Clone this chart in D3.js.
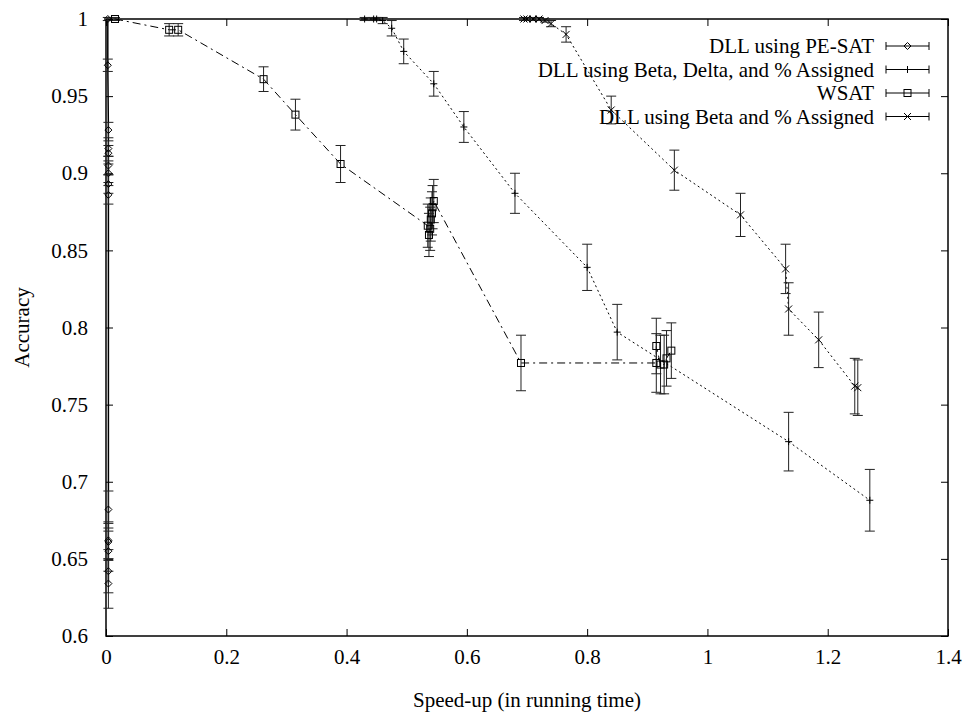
<!DOCTYPE html>
<html>
<head>
<meta charset="utf-8">
<script src="https://cdn.jsdelivr.net/npm/d3@7"></script>
<style>
  body { margin: 0; background: #fff; }
  svg text { font-family: "Liberation Serif", "Times New Roman", serif; fill: #000; }
</style>
</head>
<body>
<div class="chart-box"></div>
<script>
// DLL using PE-SAT
var peX   = [0.003, 0.003, 0.004, 0.004, 0.004, 0.004, 0.004, 0.004, 0.004, 0.004, 0.004, 0.004, 0.004, 0.004, 0.004];
var peY   = [1.000, 0.970, 0.928, 0.916, 0.913, 0.905, 0.900, 0.893, 0.886, 0.682, 0.662, 0.661, 0.655, 0.642, 0.634];
var peErr = [0.001, 0.004, 0.005, 0.005, 0.005, 0.006, 0.006, 0.006, 0.006, 0.012, 0.012, 0.012, 0.013, 0.014, 0.016];

// DLL using Beta, Delta, and % Assigned
var bdX   = [0.430, 0.445, 0.450, 0.460, 0.475, 0.495, 0.545, 0.595, 0.680, 0.800, 0.850, 1.135, 1.270];
var bdY   = [1.000, 1.000, 1.000, 0.999, 0.994, 0.979, 0.958, 0.930, 0.887, 0.839, 0.797, 0.726, 0.688];
var bdErr = [0.001, 0.001, 0.001, 0.002, 0.005, 0.008, 0.008, 0.010, 0.013, 0.015, 0.018, 0.019, 0.020];

// WSAT
var wsX   = [0.015, 0.105, 0.120, 0.262, 0.315, 0.390, 0.535, 0.537, 0.539, 0.540, 0.542, 0.543, 0.545, 0.690, 0.915, 0.915, 0.922, 0.928, 0.932, 0.940];
var wsY   = [1.000, 0.993, 0.993, 0.961, 0.938, 0.906, 0.866, 0.860, 0.864, 0.870, 0.874, 0.878, 0.882, 0.777, 0.777, 0.788, 0.776, 0.776, 0.780, 0.785];
var wsErr = [0.001, 0.004, 0.004, 0.008, 0.010, 0.012, 0.014, 0.014, 0.014, 0.014, 0.014, 0.014, 0.014, 0.018, 0.019, 0.018, 0.019, 0.019, 0.018, 0.018];

// DLL using Beta and % Assigned
var baX   = [0.695, 0.700, 0.710, 0.720, 0.730, 0.740, 0.765, 0.840, 0.945, 1.055, 1.130, 1.135, 1.185, 1.245, 1.250];
var baY   = [1.000, 1.000, 1.000, 1.000, 0.999, 0.997, 0.990, 0.941, 0.902, 0.873, 0.838, 0.812, 0.792, 0.762, 0.761];
var baErr = [0.001, 0.001, 0.001, 0.001, 0.001, 0.002, 0.005, 0.009, 0.013, 0.014, 0.016, 0.017, 0.018, 0.018, 0.018];

var xTicks = [0, 0.2, 0.4, 0.6, 0.8, 1, 1.2, 1.4];
var yTicks = [0.6, 0.65, 0.7, 0.75, 0.8, 0.85, 0.9, 0.95, 1];

var seriesNames = ["DLL using PE-SAT", "DLL using Beta, Delta, and % Assigned", "WSAT", "DLL using Beta and % Assigned"];

function zip(xs, ys, es) {
  return xs.map(function(x, i) { return { x: x, y: ys[i], e: es[i] }; });
}

var series = [
  { name: seriesNames[0], data: zip(peX, peY, peErr), marker: "diamond", dash: null },
  { name: seriesNames[1], data: zip(bdX, bdY, bdErr), marker: "plus",    dash: "2,3" },
  { name: seriesNames[2], data: zip(wsX, wsY, wsErr), marker: "square",  dash: "8,4,2,4" },
  { name: seriesNames[3], data: zip(baX, baY, baErr), marker: "cross",   dash: "2,3" }
];

var width = 968, height = 719;
var mLeft = 106, mRight = 948, mTop = 19, mBottom = 636;
var fontSize = 21;

var x = d3.scaleLinear().domain([0, 1.4]).range([mLeft, mRight]);
var y = d3.scaleLinear().domain([0.6, 1]).range([mBottom, mTop]);

var svg = d3.select(".chart-box").append("svg")
    .attr("width", width)
    .attr("height", height);

var fmt = function(d) { return String(+d.toFixed(2)); };
var tickLen = 7;

// frame + inward ticks on all four sides
var axes = svg.append("g").attr("class", "axes");

axes.append("g")
    .attr("transform", "translate(0," + mBottom + ")")
    .call(d3.axisBottom(x).tickValues(xTicks).tickSizeInner(-tickLen).tickSizeOuter(0).tickFormat(fmt))
    .call(function(g) {
      g.select(".domain").remove();
      g.selectAll("text").attr("font-size", fontSize).attr("y", 21).attr("dy", "0.35em");
    });

axes.append("g")
    .attr("transform", "translate(0," + mTop + ")")
    .call(d3.axisTop(x).tickValues(xTicks).tickSizeInner(-tickLen).tickSizeOuter(0).tickFormat(""))
    .call(function(g) { g.select(".domain").remove(); });

axes.append("g")
    .attr("transform", "translate(" + mLeft + ",0)")
    .call(d3.axisLeft(y).tickValues(yTicks).tickSizeInner(-tickLen).tickSizeOuter(0).tickFormat(fmt))
    .call(function(g) {
      g.select(".domain").remove();
      g.selectAll("text").attr("font-size", fontSize).attr("x", -18);
    });

axes.append("g")
    .attr("transform", "translate(" + mRight + ",0)")
    .call(d3.axisRight(y).tickValues(yTicks).tickSizeInner(-tickLen).tickSizeOuter(0).tickFormat(""))
    .call(function(g) { g.select(".domain").remove(); });

axes.selectAll(".tick line").attr("stroke", "#000");

svg.append("rect")
    .attr("x", mLeft).attr("y", mTop)
    .attr("width", mRight - mLeft).attr("height", mBottom - mTop)
    .attr("fill", "none").attr("stroke", "#000").attr("stroke-width", 1.5);

// axis titles
svg.append("text")
    .attr("x", (mLeft + mRight) / 2).attr("y", 700).attr("dy", "0.35em")
    .attr("text-anchor", "middle").attr("font-size", fontSize)
    .text("Speed-up (in running time)");

svg.append("text")
    .attr("transform", "translate(22," + ((mTop + mBottom) / 2) + ") rotate(-90)")
    .attr("dy", "0.35em")
    .attr("text-anchor", "middle").attr("font-size", fontSize)
    .text("Accuracy");

// markers
function drawMarker(g, type, cx, cy) {
  var s = 3.5;
  if (type === "diamond") {
    g.append("path").attr("d", "M" + (cx - s) + "," + cy + "L" + cx + "," + (cy - s) + "L" + (cx + s) + "," + cy + "L" + cx + "," + (cy + s) + "Z")
      .attr("fill", "none").attr("stroke", "#000");
  } else if (type === "plus") {
    g.append("path").attr("d", "M" + (cx - s) + "," + cy + "H" + (cx + s) + "M" + cx + "," + (cy - s) + "V" + (cy + s))
      .attr("stroke", "#000");
  } else if (type === "square") {
    g.append("rect").attr("x", cx - s).attr("y", cy - s).attr("width", 2 * s).attr("height", 2 * s)
      .attr("fill", "none").attr("stroke", "#000");
  } else if (type === "cross") {
    g.append("path").attr("d", "M" + (cx - s) + "," + (cy - s) + "L" + (cx + s) + "," + (cy + s) + "M" + (cx - s) + "," + (cy + s) + "L" + (cx + s) + "," + (cy - s))
      .attr("stroke", "#000");
  }
}

var line = d3.line()
    .x(function(d) { return x(d.x); })
    .y(function(d) { return y(d.y); });

var plot = svg.append("g").attr("class", "plot");

series.forEach(function(s) {
  var g = plot.append("g");
  g.append("path")
      .datum(s.data)
      .attr("d", line)
      .attr("fill", "none")
      .attr("stroke", "#000")
      .attr("stroke-width", s.dash ? 1 : 1.5)
      .attr("stroke-dasharray", s.dash);

  var bars = g.selectAll(".bar").data(s.data).enter().append("g").attr("class", "bar");
  bars.append("line")
      .attr("x1", function(d) { return x(d.x); })
      .attr("x2", function(d) { return x(d.x); })
      .attr("y1", function(d) { return y(d.y - d.e); })
      .attr("y2", function(d) { return y(d.y + d.e); })
      .attr("stroke", "#222");
  [-1, 1].forEach(function(sign) {
    bars.append("line")
        .attr("x1", function(d) { return x(d.x) - 5; })
        .attr("x2", function(d) { return x(d.x) + 5; })
        .attr("y1", function(d) { return y(d.y + sign * d.e); })
        .attr("y2", function(d) { return y(d.y + sign * d.e); })
        .attr("stroke", "#222");
  });
  s.data.forEach(function(d) { drawMarker(g, s.marker, x(d.x), y(d.y)); });
});

// legend
var legend = svg.append("g").attr("class", "legend");
series.forEach(function(s, i) {
  var ly = 46 + i * 23.5;
  legend.append("text")
      .attr("x", 874).attr("y", ly).attr("dy", "0.35em")
      .attr("text-anchor", "end").attr("font-size", fontSize)
      .text(s.name);
  legend.append("line").attr("x1", 886).attr("x2", 929).attr("y1", ly).attr("y2", ly).attr("stroke", "#000");
  legend.append("line").attr("x1", 886).attr("x2", 886).attr("y1", ly - 4).attr("y2", ly + 4).attr("stroke", "#000");
  legend.append("line").attr("x1", 929).attr("x2", 929).attr("y1", ly - 4).attr("y2", ly + 4).attr("stroke", "#000");
  drawMarker(legend, s.marker, 907.5, ly);
});
</script>
</body>
</html>
